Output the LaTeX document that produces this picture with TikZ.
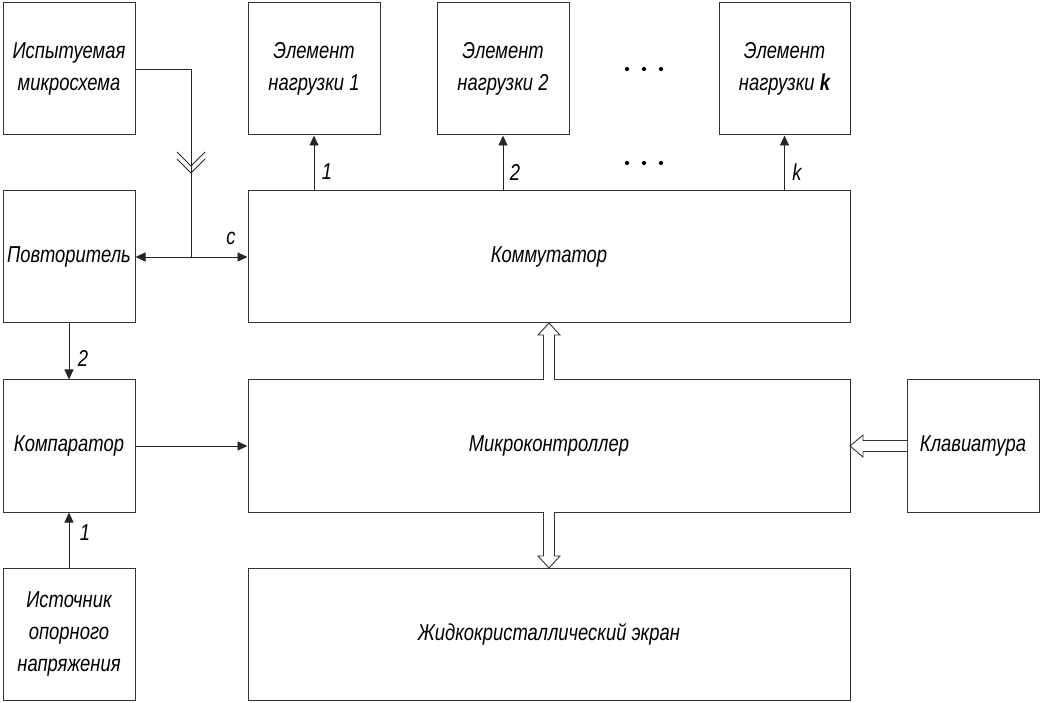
\documentclass[tikz,border=0pt]{standalone}
\usepackage{fontspec}
\setmainfont{Liberation Sans}[FakeStretch=0.8]
\usetikzlibrary{arrows.meta,calc}
\begin{document}
\begin{tikzpicture}[x=1pt,y=-1pt,
  blk/.style={draw=black!80,line width=1pt,minimum width=132pt,minimum height=132pt,inner sep=0pt,align=center,font=\fontsize{23}{32}\selectfont\itshape},
  wide/.style={blk,minimum width=602pt},
  conn/.style={draw=black!85,line width=0.9pt},
  tip/.style={-{Triangle[length=10pt,width=9pt]}},
  lbl/.style={font=\fontsize{23}{24}\selectfont\itshape,inner sep=0pt},
  hollow/.style={draw=black!80,line width=0.9pt,fill=white}]
\useasboundingbox (0,0) rectangle (1042,703);
\node[blk] (ism) at (69,69) {Испытуемая\\микросхема};
\node[blk] (rep) at (69,257) {Повторитель};
\node[blk] (cmp) at (69,446) {Компаратор};
\node[blk] (src) at (69,634) {Источник\\опорного\\напряжения};
\node[blk] (e1) at (314,69) {Элемент\\нагрузки 1};
\node[blk] (e2) at (503,69) {Элемент\\нагрузки 2};
\node[blk,minimum width=131pt] (ek) at (784.5,69) {Элемент\\нагрузки \textbf{k}};
\node[wide] (kom) at (549,257) {Коммутатор};
\node[wide] (mc) at (549,446) {Микроконтроллер};
\node[blk] (kb) at (973,446) {Клавиатура};
\node[wide] (lcd) at (549,634) {Жидкокристаллический экран};
% junction from tested chip
\coordinate (j) at (191,257);
\coordinate (ch1) at (191,166);
\coordinate (ch2) at (191,173);
\draw[conn] (ism.east) -| (j);
\draw[conn] ($(ch1)+(-14,-14)$) -- (ch1) -- ($(ch1)+(14,-14)$);
\draw[conn] ($(ch2)+(-14,-14)$) -- (ch2) -- ($(ch2)+(14,-14)$);
\draw[conn,{Triangle[length=10pt,width=9pt]}-{Triangle[length=10pt,width=9pt]}] (rep.east) -- (kom.west);
\node[lbl] (lc) at (231,238) {c};
% outputs of commutator
\draw[conn,tip] (kom.north -| e1) -- (e1.south);
\draw[conn,tip] (kom.north -| e2) -- (e2.south);
\draw[conn,tip] (kom.north -| ek) -- (ek.south);
\node[lbl] (l1) at (327,172) {1};
\node[lbl] (l2) at (515,172) {2};
\node[lbl] (lk) at (797,172) {k};
% dots
\foreach \x in {627,644,661}{
  \fill (\x,69) circle (2.1pt);
  \fill (\x,163) circle (2.1pt);
}
% left column
\draw[conn,tip] (rep.south) -- (cmp.north);
\node[lbl] (lr2) at (83,358) {2};
\draw[conn,tip] (src.north) -- (cmp.south);
\node[lbl] (ls1) at (85,533) {1};
\draw[conn,tip] (cmp.east) -- (mc.west);
% hollow arrows
\draw[hollow] (543.5,380) -- (543.5,335) -- (538,335) -- (549,323) -- (560,335) -- (554.5,335) -- (554.5,380);
\draw[hollow] (543.5,512) -- (543.5,556) -- (538,556) -- (549,568) -- (560,556) -- (554.5,556) -- (554.5,512);
\draw[hollow] (907,440.5) -- (863,440.5) -- (863,435) -- (850,446) -- (863,457) -- (863,451.5) -- (907,451.5);
\end{tikzpicture}
\end{document}
